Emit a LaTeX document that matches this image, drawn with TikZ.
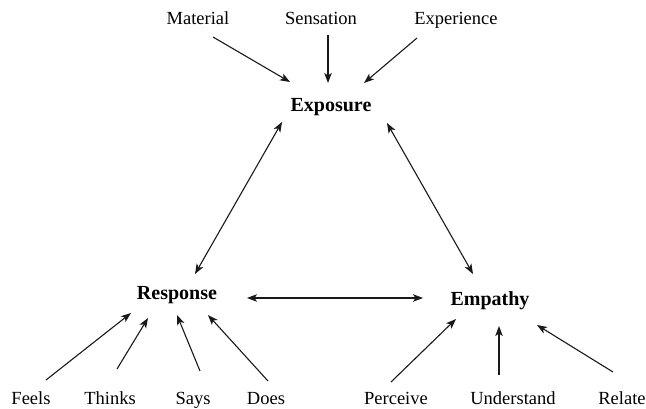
\documentclass[tikz,border=0pt]{standalone}
\usepackage{fontspec}
\setmainfont{Liberation Serif}
\usetikzlibrary{arrows.meta}
\begin{document}
\begin{tikzpicture}[x=1pt,y=-1pt,
  lbl/.style={font=\fontsize{18.5}{22}\selectfont, inner sep=0pt, anchor=base, text=black},
  hub/.style={font=\fontsize{20}{24}\selectfont\bfseries, inner sep=0pt, anchor=base, text=black},
  arr/.style={-{Stealth[length=10pt,width=7.5pt,inset=2.5pt]}, line width=1.1pt, draw=black!90},
  darr/.style={{Stealth[length=10pt,width=7.5pt,inset=2.5pt]}-{Stealth[length=10pt,width=7.5pt,inset=2.5pt]}, line width=1.1pt, draw=black!90}]
\useasboundingbox (0,0) rectangle (646,409);
% hubs
\node[hub] (Exposure) at (331,111.5) {Exposure};
\node[hub] (Response) at (177,299.5) {Response};
\node[hub] (Empathy) at (490,305.5) {Empathy};
% top labels
\node[lbl] (Material) at (198,25) {Material};
\node[lbl] (Sensation) at (321,25) {Sensation};
\node[lbl] (Experience) at (456,25) {Experience};
% bottom labels
\node[lbl] (Feels) at (31,404) {Feels};
\node[lbl] (Thinks) at (110,404) {Thinks};
\node[lbl] (Says) at (193,404) {Says};
\node[lbl] (Does) at (266,404) {Does};
\node[lbl] (Perceive) at (396,404) {Perceive};
\node[lbl] (Understand) at (513,404) {Understand};
\node[lbl] (Relate) at (622,404) {Relate};
% connector end points
\coordinate (m1) at (213,37); \coordinate (m2) at (290,82);
\coordinate (s1) at (328,35); \coordinate (s2) at (328,83);
\coordinate (e1) at (417,38); \coordinate (e2) at (364,83);
\coordinate (xr1) at (282,122); \coordinate (xr2) at (195,274);
\coordinate (xe1) at (387,123); \coordinate (xe2) at (473,274);
\coordinate (re1) at (247,298); \coordinate (re2) at (423,298);
\coordinate (f1) at (46,380); \coordinate (f2) at (131,313);
\coordinate (t1) at (117,369); \coordinate (t2) at (148,318);
\coordinate (y1) at (200,371); \coordinate (y2) at (177,315);
\coordinate (d1) at (268,381); \coordinate (d2) at (208,315);
\coordinate (p1) at (391,382); \coordinate (p2) at (456,319);
\coordinate (u1) at (499,375); \coordinate (u2) at (499,326);
\coordinate (r1) at (613,372); \coordinate (r2) at (537,325);
% connectors
\draw[arr] (m1) -- (m2);
\draw[arr] (s1) -- (s2);
\draw[arr] (e1) -- (e2);
\draw[darr] (xr1) -- (xr2);
\draw[darr] (xe1) -- (xe2);
\draw[darr] (re1) -- (re2);
\draw[arr] (f1) -- (f2);
\draw[arr] (t1) -- (t2);
\draw[arr] (y1) -- (y2);
\draw[arr] (d1) -- (d2);
\draw[arr] (p1) -- (p2);
\draw[arr] (u1) -- (u2);
\draw[arr] (r1) -- (r2);
\end{tikzpicture}
\end{document}
